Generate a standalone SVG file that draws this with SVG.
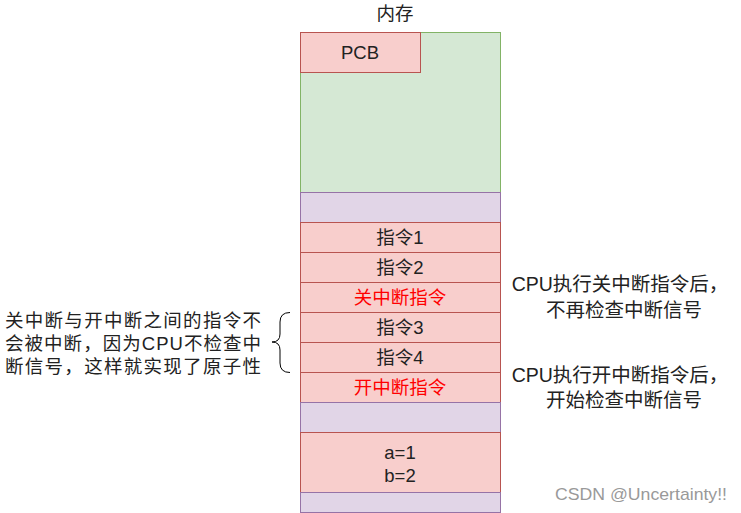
<svg xmlns="http://www.w3.org/2000/svg" width="741" height="513" viewBox="0 0 741 513">
<style>
text{font-family:"Liberation Sans","Noto Sans CJK SC",sans-serif;font-size:18.5px;fill:#222;}
.c{text-anchor:middle;}
.n{font-size:19.5px;}
.red{fill:#ff0000;}
.g{fill:#d5e8d4;stroke:#82b366;}
.p{fill:#e1d5e7;stroke:#9673a6;}
.r{fill:#f8cecc;stroke:#b85450;}
.wm{fill:#999;font-size:17px;}
</style>
<rect width="741" height="513" fill="#fff"/>
<text class="c" x="395" y="20">内存</text>
<g id="memory"><rect class="g" x="300.5" y="32.5" width="200" height="160"/></g>
<g id="pcb"><rect class="r" x="300.5" y="32.5" width="120" height="40"/><text class="c" x="360" y="59">PCB</text></g>
<g id="free1"><rect class="p" x="300.5" y="192.5" width="200" height="30"/></g>
<g id="ins1"><rect class="r" x="300.5" y="222.5" width="200" height="30"/><text class="c" x="400" y="244">指令1</text></g>
<g id="ins2"><rect class="r" x="300.5" y="252.5" width="200" height="30"/><text class="c" x="400" y="274">指令2</text></g>
<g id="cli"><rect class="r" x="300.5" y="282.5" width="200" height="30"/><text class="c red" x="400" y="304">关中断指令</text></g>
<g id="ins3"><rect class="r" x="300.5" y="312.5" width="200" height="30"/><text class="c" x="400" y="334">指令3</text></g>
<g id="ins4"><rect class="r" x="300.5" y="342.5" width="200" height="30"/><text class="c" x="400" y="364">指令4</text></g>
<g id="sti"><rect class="r" x="300.5" y="372.5" width="200" height="30"/><text class="c red" x="400" y="394">开中断指令</text></g>
<g id="free2"><rect class="p" x="300.5" y="402.5" width="200" height="30"/></g>
<g id="data"><rect class="r" x="300.5" y="432.5" width="200" height="60"/><text class="c" x="400" y="459">a=1</text><text class="c" x="400" y="482">b=2</text></g>
<g id="free3"><rect class="p" x="300.5" y="492.5" width="200" height="20"/></g>
<g id="connectors">
<path d="M290,312.5 Q280,312.5 280,322 L280,334 Q280,342 272,342 Q280,342 280,350 L280,363 Q280,372.5 290,372.5" fill="none" stroke="#000" stroke-width="1"/>
</g>
<g id="note-left">
<text x="5" y="327" textLength="256" lengthAdjust="spacing">关中断与开中断之间的指令不</text>
<text x="5" y="350" textLength="256" lengthAdjust="spacing">会被中断，因为CPU不检查中</text>
<text x="5" y="373" textLength="256" lengthAdjust="spacing">断信号，这样就实现了原子性</text>
</g>
<g id="note-cli">
<text class="c n" x="620" y="291">CPU执行关中断指令后，</text>
<text class="c n" x="624" y="317">不再检查中断信号</text>
</g>
<g id="note-sti">
<text class="c n" x="620" y="382">CPU执行开中断指令后，</text>
<text class="c n" x="624" y="407">开始检查中断信号</text>
</g>
<text class="wm" x="555" y="500" textLength="172" lengthAdjust="spacingAndGlyphs">CSDN @Uncertainty!!</text>
</svg>
